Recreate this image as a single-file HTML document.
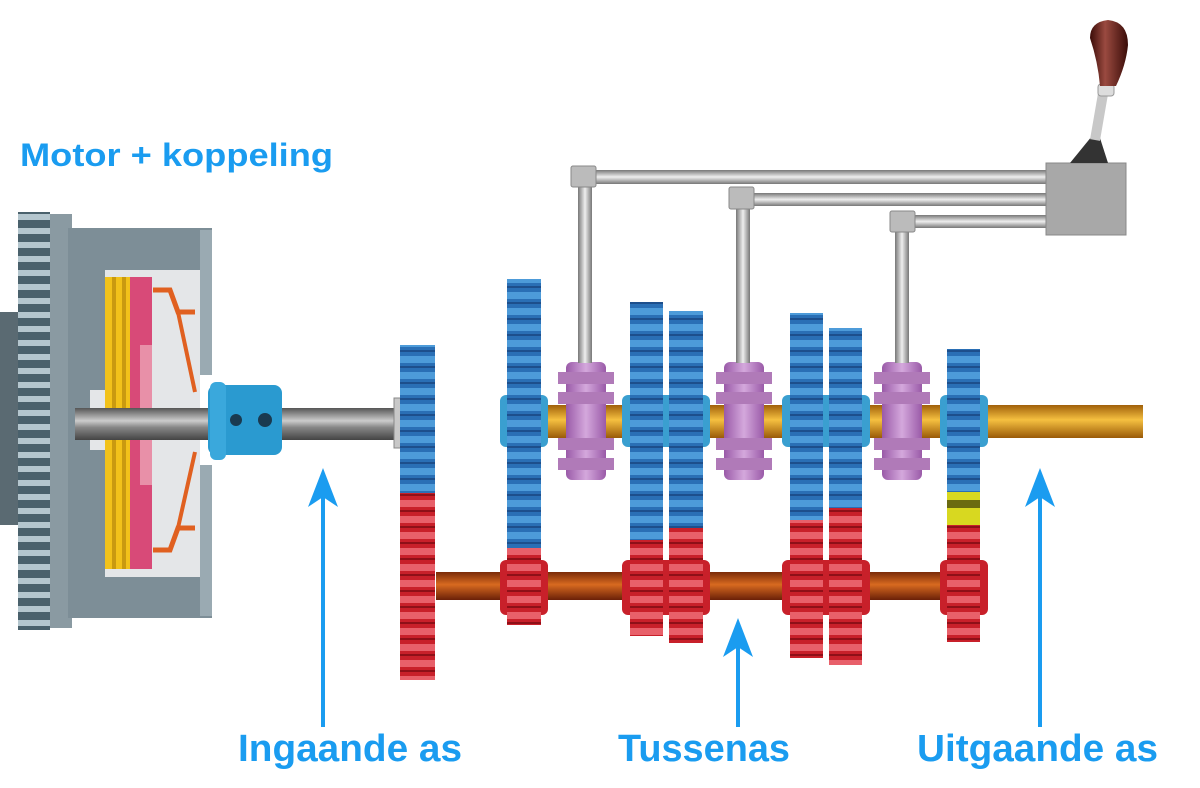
<!DOCTYPE html>
<html><head><meta charset="utf-8"><style>html,body{margin:0;padding:0;background:#fff}svg{display:block}</style></head>
<body>
<svg width="1200" height="788" viewBox="0 0 1200 788" xmlns="http://www.w3.org/2000/svg">
<defs>
<pattern id="bl" width="10" height="16" patternUnits="userSpaceOnUse"><rect width="10" height="16" fill="#2a6fb5"/><rect y="4" width="10" height="7" fill="#4d9bd9"/><rect y="14" width="10" height="2" fill="#1d4f8c"/></pattern>
<pattern id="rd" width="10" height="16" patternUnits="userSpaceOnUse"><rect width="10" height="16" fill="#c8202a"/><rect y="4" width="10" height="7" fill="#e8606a"/><rect y="14" width="10" height="2" fill="#8e1018"/></pattern>
<pattern id="fw" width="10" height="14" patternUnits="userSpaceOnUse"><rect width="10" height="14" fill="#4a616c"/><rect y="4" width="10" height="6" fill="#b4c6ce"/></pattern>
<linearGradient id="sh" x1="0" y1="0" x2="0" y2="1"><stop offset="0" stop-color="#555"/><stop offset=".4" stop-color="#ccc"/><stop offset=".6" stop-color="#888"/><stop offset="1" stop-color="#444"/></linearGradient>
<linearGradient id="go" x1="0" y1="0" x2="0" y2="1"><stop offset="0" stop-color="#a0600a"/><stop offset=".45" stop-color="#f5c040"/><stop offset="1" stop-color="#9a5a08"/></linearGradient>
<linearGradient id="cs" x1="0" y1="0" x2="0" y2="1"><stop offset="0" stop-color="#7a2a08"/><stop offset=".45" stop-color="#d86a20"/><stop offset="1" stop-color="#6a2008"/></linearGradient>
<linearGradient id="rod" x1="0" y1="0" x2="0" y2="1"><stop offset="0" stop-color="#777"/><stop offset=".5" stop-color="#eee"/><stop offset="1" stop-color="#777"/></linearGradient>
<linearGradient id="rodv" x1="0" y1="0" x2="1" y2="0"><stop offset="0" stop-color="#777"/><stop offset=".5" stop-color="#eee"/><stop offset="1" stop-color="#777"/></linearGradient>
<linearGradient id="pu" x1="0" y1="0" x2="1" y2="0"><stop offset="0" stop-color="#9a5aa8"/><stop offset=".5" stop-color="#d4a8dc"/><stop offset="1" stop-color="#9a5aa8"/></linearGradient>
<linearGradient id="kn" x1="0" y1="0" x2="1" y2="0"><stop offset="0" stop-color="#3a0c08"/><stop offset=".4" stop-color="#9a4a40"/><stop offset="1" stop-color="#3a0c08"/></linearGradient>
</defs>
<!-- clutch -->
<rect x="0" y="312" width="22" height="213" fill="#5a6a72"/>
<rect x="18" y="212" width="32" height="418" fill="url(#fw)"/>
<rect x="50" y="214" width="22" height="414" fill="#8a9aa2"/>
<rect x="68" y="228" width="144" height="390" fill="#7d8e97"/>
<rect x="200" y="230" width="12" height="386" fill="#9aaab2"/>
<rect x="105" y="270" width="95" height="307" fill="#e4e6e8"/>
<rect x="200" y="375" width="12" height="90" fill="#fff"/>
<rect x="90" y="390" width="20" height="60" fill="#e4e6e8"/>
<rect x="105" y="277" width="25" height="292" fill="#f2c21a"/>
<rect x="112" y="277" width="4" height="292" fill="#c99a10"/>
<rect x="122" y="277" width="4" height="292" fill="#c99a10"/>
<rect x="130" y="277" width="22" height="292" fill="#d84a78"/>
<rect x="140" y="345" width="12" height="140" fill="#e890a8"/>
<polyline points="153,290 170,290 178,312 195,312" fill="none" stroke="#e06020" stroke-width="5"/>
<line x1="178" y1="312" x2="195" y2="392" stroke="#e06020" stroke-width="4"/>
<polyline points="153,550 170,550 178,528 195,528" fill="none" stroke="#e06020" stroke-width="5"/>
<line x1="178" y1="528" x2="195" y2="452" stroke="#e06020" stroke-width="4"/>
<rect x="75" y="408" width="325" height="32" fill="url(#sh)"/>
<rect x="394" y="398" width="8" height="50" fill="#c8c8c8" stroke="#888"/>
<rect x="208" y="385" width="74" height="70" rx="8" fill="#2a9ad0"/>
<rect x="210" y="382" width="16" height="78" rx="6" fill="#3aa8dc"/>
<circle cx="236" cy="420" r="6" fill="#1a3a50"/><circle cx="265" cy="420" r="7" fill="#1a3a50"/>
<!-- input gear -->
<rect x="400" y="345" width="35" height="148" fill="url(#bl)"/>
<rect x="400" y="493" width="35" height="187" fill="url(#rd)"/>
<!-- shafts -->
<rect x="500" y="405" width="643" height="33" fill="url(#go)"/>
<rect x="436" y="572" width="514" height="28" fill="url(#cs)"/>
<g fill="#3a9fd0">
<rect x="500" y="395" width="48" height="52" rx="6"/><rect x="622" y="395" width="88" height="52" rx="6"/><rect x="782" y="395" width="88" height="52" rx="6"/><rect x="940" y="395" width="48" height="52" rx="6"/>
</g>
<g fill="#c8202a">
<rect x="500" y="560" width="48" height="55" rx="6"/><rect x="622" y="560" width="88" height="55" rx="6"/><rect x="782" y="560" width="88" height="55" rx="6"/><rect x="940" y="560" width="48" height="55" rx="6"/>
</g>
<!-- gears -->
<rect x="507" y="279" width="34" height="270" fill="url(#bl)"/><rect x="507" y="548" width="34" height="77" fill="url(#rd)"/>
<rect x="630" y="302" width="33" height="238" fill="url(#bl)"/><rect x="630" y="540" width="33" height="96" fill="url(#rd)"/>
<rect x="669" y="311" width="34" height="217" fill="url(#bl)"/><rect x="669" y="528" width="34" height="115" fill="url(#rd)"/>
<rect x="790" y="313" width="33" height="207" fill="url(#bl)"/><rect x="790" y="520" width="33" height="138" fill="url(#rd)"/>
<rect x="829" y="328" width="33" height="180" fill="url(#bl)"/><rect x="829" y="508" width="33" height="157" fill="url(#rd)"/>
<rect x="947" y="349" width="33" height="143" fill="url(#bl)"/><rect x="947" y="492" width="33" height="33" fill="#d8d820"/><rect x="947" y="500" width="33" height="8" fill="#6a6a10"/><rect x="947" y="525" width="33" height="117" fill="url(#rd)"/>
<!-- synchros -->
<g>
<rect x="566" y="362" width="40" height="118" rx="6" fill="url(#pu)"/>
<rect x="558" y="372" width="56" height="12" fill="#b07ab8"/><rect x="558" y="392" width="56" height="12" fill="#b07ab8"/><rect x="558" y="438" width="56" height="12" fill="#b07ab8"/><rect x="558" y="458" width="56" height="12" fill="#b07ab8"/>
<rect x="724" y="362" width="40" height="118" rx="6" fill="url(#pu)"/>
<rect x="716" y="372" width="56" height="12" fill="#b07ab8"/><rect x="716" y="392" width="56" height="12" fill="#b07ab8"/><rect x="716" y="438" width="56" height="12" fill="#b07ab8"/><rect x="716" y="458" width="56" height="12" fill="#b07ab8"/>
<rect x="882" y="362" width="40" height="118" rx="6" fill="url(#pu)"/>
<rect x="874" y="372" width="56" height="12" fill="#b07ab8"/><rect x="874" y="392" width="56" height="12" fill="#b07ab8"/><rect x="874" y="438" width="56" height="12" fill="#b07ab8"/><rect x="874" y="458" width="56" height="12" fill="#b07ab8"/>
</g>
<!-- shift rods -->
<rect x="578" y="185" width="14" height="178" fill="url(#rodv)"/>
<rect x="736" y="207" width="14" height="156" fill="url(#rodv)"/>
<rect x="895" y="230" width="14" height="133" fill="url(#rodv)"/>
<rect x="594" y="170" width="456" height="14" fill="url(#rod)"/>
<rect x="752" y="193" width="298" height="13" fill="url(#rod)"/>
<rect x="912" y="215" width="138" height="13" fill="url(#rod)"/>
<rect x="571" y="166" width="25" height="21" rx="2" fill="#bbb" stroke="#888"/>
<rect x="729" y="187" width="25" height="22" rx="2" fill="#bbb" stroke="#888"/>
<rect x="890" y="211" width="25" height="21" rx="2" fill="#bbb" stroke="#888"/>
<rect x="1046" y="163" width="80" height="72" fill="#a8a8a8" stroke="#888"/>
<polygon points="1070,163 1108,163 1100,138 1092,136" fill="#333"/>
<line x1="1095" y1="140" x2="1104" y2="88" stroke="#c8c8c8" stroke-width="10"/>
<rect x="1098" y="84" width="16" height="12" rx="3" fill="#ddd" stroke="#999"/>
<path d="M1090,38 Q1090,22 1108,20 Q1128,22 1128,45 Q1126,65 1116,86 L1100,86 Q1098,62 1090,38 Z" fill="url(#kn)"/>
<!-- arrows -->
<g fill="#1a9cf0" stroke="#1a9cf0">
<line x1="323" y1="727" x2="323" y2="480" stroke-width="4"/>
<path d="M323,468 L338,507 L323,497 L308,507 Z" stroke="none"/>
<line x1="738" y1="727" x2="738" y2="630" stroke-width="4"/>
<path d="M738,618 L753,657 L738,647 L723,657 Z" stroke="none"/>
<line x1="1040" y1="727" x2="1040" y2="480" stroke-width="4"/>
<path d="M1040,468 L1055,507 L1040,497 L1025,507 Z" stroke="none"/>
</g>
<g fill="#1a9cf0" font-family="Liberation Sans, sans-serif" font-weight="bold">
<text x="20" y="166" font-size="32" textLength="313" lengthAdjust="spacingAndGlyphs">Motor + koppeling</text>
<text x="238" y="761" font-size="38" textLength="224" lengthAdjust="spacingAndGlyphs">Ingaande as</text>
<text x="618" y="761" font-size="38" textLength="172" lengthAdjust="spacingAndGlyphs">Tussenas</text>
<text x="917" y="761" font-size="38" textLength="241" lengthAdjust="spacingAndGlyphs">Uitgaande as</text>
</g>
</svg>
</body></html>
